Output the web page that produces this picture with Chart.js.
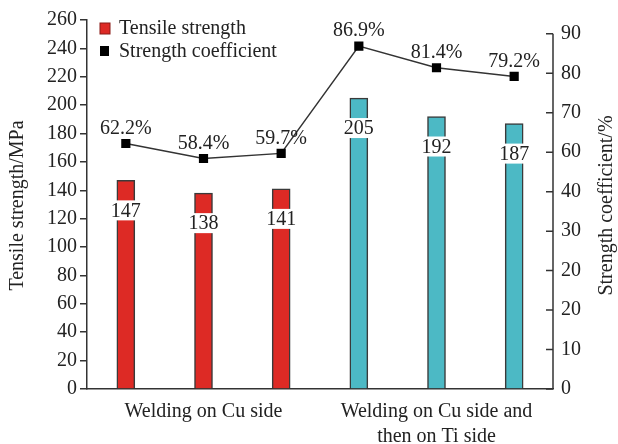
<!DOCTYPE html>
<html>
<head>
<meta charset="utf-8">
<script src="https://cdn.jsdelivr.net/npm/chart.js@4/dist/chart.umd.min.js"></script>
<style>
  html, body { margin: 0; padding: 0; background: #ffffff; }
  #wrap { width: 618px; height: 444px; }
</style>
</head>
<body>
<div id="wrap"><canvas id="c" width="618" height="444"></canvas></div>
<script>
// ---- data ----
const xTickLabels = ['', 'Welding on Cu side', '', '', ['Welding on Cu side and', 'then on Ti side'], ''];
const tensileStrength = [147, 138, 141, 205, 192, 187];
const strengthCoefficient = [62.2, 58.4, 59.7, 86.9, 81.4, 79.2];
const seriesNames = ['Tensile strength', 'Strength coefficient'];
const axisTitles = ['Tensile strength/MPa', 'Strength coefficient/%'];
const rightTickValues = [0, 10, 20, 30, 40, 50, 60, 70, 80, 90];
const rightTickLabels = ['0', '10', '20', '20', '30', '40', '60', '70', '80', '90'];

const FONT = '"Liberation Serif", "Times New Roman", serif';
const TXT = '#222222';
const RED = '#dd2a25';
const TEAL = '#4cb9c5';
const barColors = tensileStrength.map((v, i) => i < 3 ? RED : TEAL);

const overlay = {
  id: 'overlay',
  afterDatasetsDraw(chart) {
    const ctx = chart.ctx;
    const area = chart.chartArea;
    ctx.save();
    // right axis line & inward ticks
    const y1 = chart.scales.y1;
    const rx = y1.left;
    ctx.strokeStyle = '#333';
    ctx.lineWidth = 1.5;
    ctx.beginPath();
    ctx.moveTo(rx, y1.getPixelForValue(0));
    ctx.lineTo(rx, y1.getPixelForValue(90));
    rightTickValues.forEach(v => {
      const py = y1.getPixelForValue(v);
      ctx.moveTo(rx - 7, py);
      ctx.lineTo(rx, py);
    });
    ctx.stroke();

    // bar labels
    ctx.font = '20px ' + FONT;
    ctx.textAlign = 'center';
    ctx.textBaseline = 'middle';
    const barMeta = chart.getDatasetMeta(0);
    barMeta.data.forEach((bar, i) => {
      const cy = bar.y + 30;
      ctx.fillStyle = '#ffffff';
      ctx.fillRect(bar.x - bar.width / 2 - 1, cy - 10, bar.width + 2, 20);
      ctx.fillStyle = TXT;
      ctx.fillText(String(tensileStrength[i]), bar.x, cy + 1);
    });
    // line labels
    const lineMeta = chart.getDatasetMeta(1);
    lineMeta.data.forEach((pt, i) => {
      ctx.fillStyle = TXT;
      ctx.fillText(strengthCoefficient[i].toFixed(1) + '%', pt.x, pt.y - 15);
    });

    // legend
    const lx = area.left + 13;
    ctx.textAlign = 'left';
    ctx.fillStyle = RED;
    ctx.fillRect(lx, area.top + 3, 10, 11);
    ctx.strokeStyle = '#8a1a16';
    ctx.lineWidth = 1;
    ctx.strokeRect(lx, area.top + 3, 10, 11);
    ctx.fillStyle = TXT;
    ctx.fillText(seriesNames[0], lx + 19, area.top + 9);
    ctx.fillStyle = '#000';
    ctx.fillRect(lx, area.top + 26, 9, 10);
    ctx.fillStyle = TXT;
    ctx.fillText(seriesNames[1], lx + 19, area.top + 32);

    // axis titles
    const cyMid = (area.top + area.bottom) / 2 + 1;
    ctx.save();
    ctx.translate(18, cyMid);
    ctx.rotate(-Math.PI / 2);
    ctx.textAlign = 'center';
    ctx.fillText(axisTitles[0], 0, 0);
    ctx.restore();
    ctx.save();
    ctx.translate(607, cyMid);
    ctx.rotate(-Math.PI / 2);
    ctx.textAlign = 'center';
    ctx.fillText(axisTitles[1], 0, 0);
    ctx.restore();
    ctx.restore();
  }
};

new Chart(document.getElementById('c'), {
  type: 'bar',
  data: {
    labels: xTickLabels,
    datasets: [
      {
        label: seriesNames[0],
        data: tensileStrength,
        yAxisID: 'y',
        backgroundColor: barColors,
        borderColor: '#3a3a3a',
        borderWidth: 1.5,
        barThickness: 18,
        order: 2
      },
      {
        type: 'line',
        label: seriesNames[1],
        data: strengthCoefficient,
        yAxisID: 'y1',
        borderColor: '#333333',
        borderWidth: 1.5,
        pointStyle: 'rect',
        pointRadius: 6.5,
        pointBackgroundColor: '#000000',
        pointBorderColor: '#000000',
        pointBorderWidth: 0,
        tension: 0,
        order: 1
      }
    ]
  },
  options: {
    responsive: false,
    animation: false,
    layout: { padding: { top: 19, left: 0, right: 0, bottom: 0 } },
    plugins: { legend: { display: false }, tooltip: { enabled: false } },
    scales: {
      x: {
        offset: true,
        grid: { display: false },
        border: { display: true, color: '#333', width: 1.5 },
        ticks: {
          autoSkip: false, maxRotation: 0, minRotation: 0,
          padding: 2, color: TXT,
          font: { family: FONT, size: 20, lineHeight: 1.25 }
        },
        afterFit(s) { s.height = 55; }
      },
      y: {
        position: 'left',
        min: 0, max: 260,
        ticks: { stepSize: 20, padding: 3, color: TXT, font: { family: FONT, size: 20 } },
        grid: { drawOnChartArea: false, drawTicks: true, tickLength: 7, color: '#333', lineWidth: 1.5 },
        border: { display: true, color: '#333', width: 1.5 },
        afterFit(s) { s.width = 87; }
      },
      y1: {
        position: 'right',
        min: 0, max: 93.5,
        afterBuildTicks(s) { s.ticks = rightTickValues.map(v => ({ value: v })); },
        ticks: {
          padding: 8, color: TXT, font: { family: FONT, size: 20 },
          callback: (v, i) => rightTickLabels[i]
        },
        grid: { display: false, drawTicks: false, drawOnChartArea: false },
        border: { display: false },
        afterFit(s) { s.width = 65; }
      }
    }
  },
  plugins: [overlay]
});
</script>
</body>
</html>
